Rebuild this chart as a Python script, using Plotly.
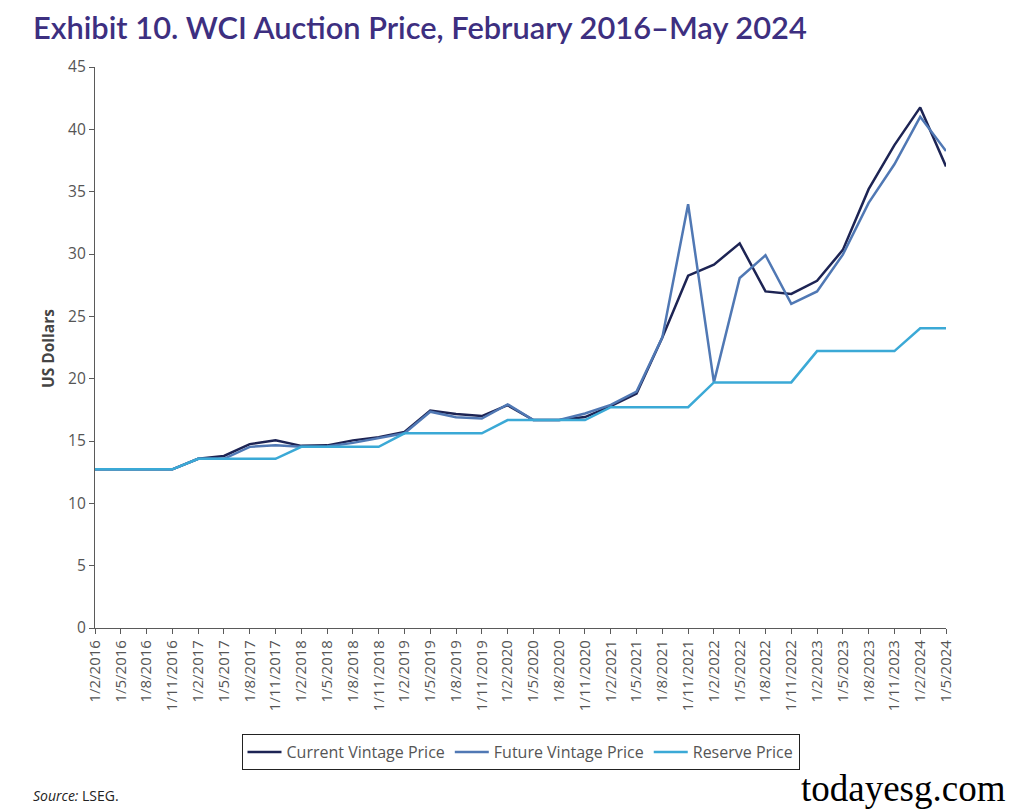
import plotly.graph_objects as go

dates = ["1/2/2016", "1/5/2016", "1/8/2016", "1/11/2016",
         "1/2/2017", "1/5/2017", "1/8/2017", "1/11/2017",
         "1/2/2018", "1/5/2018", "1/8/2018", "1/11/2018",
         "1/2/2019", "1/5/2019", "1/8/2019", "1/11/2019",
         "1/2/2020", "1/5/2020", "1/8/2020", "1/11/2020",
         "1/2/2021", "1/5/2021", "1/8/2021", "1/11/2021",
         "1/2/2022", "1/5/2022", "1/8/2022", "1/11/2022",
         "1/2/2023", "1/5/2023", "1/8/2023", "1/11/2023",
         "1/2/2024", "1/5/2024"]

current_vintage = [12.73, 12.73, 12.73, 12.73,
                   13.57, 13.80, 14.75, 15.06,
                   14.61, 14.65, 15.05, 15.31,
                   15.73, 17.45, 17.16, 17.00,
                   17.87, 16.68, 16.68, 16.92,
                   17.80, 18.80, 23.30, 28.26,
                   29.15, 30.85, 27.00, 26.80,
                   27.85, 30.33, 35.20, 38.73,
                   41.76, 37.02]

future_vintage = [12.73, 12.73, 12.73, 12.73,
                  13.57, 13.57, 14.53, 14.65,
                  14.53, 14.56, 14.85, 15.22,
                  15.62, 17.35, 16.90, 16.80,
                  17.94, 16.68, 16.68, 17.21,
                  17.90, 18.96, 23.31, 33.99,
                  19.70, 28.08, 29.90, 26.00,
                  27.00, 29.95, 34.10, 37.20,
                  41.00, 38.26]

reserve_price = [12.73, 12.73, 12.73, 12.73,
                 13.57, 13.57, 13.57, 13.57,
                 14.53, 14.53, 14.53, 14.53,
                 15.62, 15.62, 15.62, 15.62,
                 16.68, 16.68, 16.68, 16.68,
                 17.71, 17.71, 17.71, 17.71,
                 19.70, 19.70, 19.70, 19.70,
                 22.21, 22.21, 22.21, 22.21,
                 24.04, 24.04]

series_names = ["Current Vintage Price", "Future Vintage Price", "Reserve Price"]
series_colors = ["#1d2454", "#5078b4", "#3ba9d6"]
y_ticks = [0, 5, 10, 15, 20, 25, 30, 35, 40, 45]

fig = go.Figure()
for name, vals, col in zip(series_names, [current_vintage, future_vintage, reserve_price], series_colors):
    fig.add_trace(go.Scatter(x=dates, y=vals, mode="lines", name=name,
                             line=dict(color=col, width=2.5)))

body_font = "'Open Sans', 'Noto Sans', sans-serif"
title_font = "Lato, 'Open Sans', sans-serif"
axis_col = "#5a5a5a"

L, R, T, B = 95, 63, 67, 183
W, H = 1009, 811
pw, ph = W - L - R, H - T - B


def px_x(x):
    return (x - L) / pw


def px_y(y):
    return (H - B - y) / ph


fig.update_layout(
    width=W, height=H,
    paper_bgcolor="white", plot_bgcolor="white",
    margin=dict(l=L, r=R, t=T, b=B, autoexpand=False),
    font=dict(family=body_font, color=axis_col, size=14),
    showlegend=True,
    legend=dict(orientation="h", x=0.5, xanchor="center", y=px_y(734), yanchor="top",
                bordercolor="#222222", borderwidth=1,
                font=dict(family=body_font, size=16, color="#555555"),
                itemwidth=34, tracegroupgap=0),
    xaxis=dict(type="category", range=[0, len(dates) - 1], showgrid=False, zeroline=False,
               automargin=False,
               showline=True, linecolor=axis_col, linewidth=1.2,
               ticks="outside", ticklen=5, tickcolor=axis_col, tickangle=-90,
               tickfont=dict(family=body_font, size=15, color="#555555")),
    yaxis=dict(range=[0, 45], tickvals=y_ticks, showgrid=False, zeroline=False,
               automargin=False,
               showline=True, linecolor=axis_col, linewidth=1.2,
               ticks="outside", ticklen=5, tickcolor=axis_col,
               tickfont=dict(family=body_font, size=15.5, color="#555555")),
)

fig.add_annotation(text="<b>US Dollars</b>", xref="paper", yref="paper",
                   x=px_x(48), y=px_y(349), xanchor="center", yanchor="middle",
                   textangle=-90, showarrow=False,
                   font=dict(family=body_font, size=15.5, color="#444444"))

fig.add_annotation(text="Exhibit 10. WCI Auction Price, February 2016–May 2024",
                   xref="paper", yref="paper", x=px_x(31), y=px_y(27),
                   xanchor="left", yanchor="middle", showarrow=False,
                   font=dict(family=title_font, size=30.8, color="#3d2f80", weight=600))
fig.add_annotation(text="<i>Source:</i> LSEG.",
                   xref="paper", yref="paper", x=px_x(31), y=px_y(795),
                   xanchor="left", yanchor="middle",
                   showarrow=False, font=dict(family=body_font, size=14, color="#222222"))
fig.add_annotation(text="todayesg.com",
                   xref="paper", yref="paper", x=px_x(1008), y=px_y(788),
                   xanchor="right", yanchor="middle",
                   showarrow=False,
                   font=dict(family="'Liberation Serif', 'DejaVu Serif', serif", size=37, color="#000000"))

fig.write_html("out.html", config={"displayModeBar": False},
               post_script="document.body.style.margin='0px';document.body.style.overflow='hidden';")
